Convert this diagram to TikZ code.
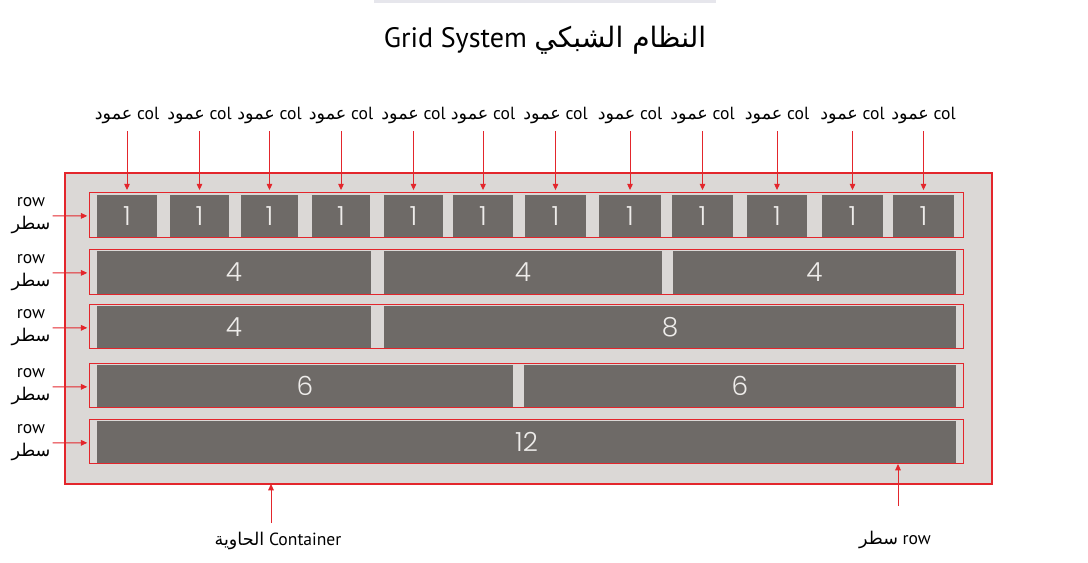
\documentclass[tikz,border=0pt]{standalone}
\usepackage{fontspec}
\setmainfont{PT Sans}
\newfontfamily\arfont[Script=Arabic]{DejaVu Sans}
\newfontfamily\numfont{Poppins}[UprightFont=* Light]
\TeXXeTstate=1
\usetikzlibrary{arrows.meta,fit}
\definecolor{gridred}{HTML}{E3262C}
\definecolor{boxgray}{HTML}{DBD8D6}
\definecolor{colgray}{HTML}{6E6A67}
\definecolor{numwhite}{HTML}{EEECEA}
\definecolor{bargray}{HTML}{E6E6EC}
\newcommand{\artxt}[1]{{\arfont\beginR #1\endR}}
\tikzset{
	contbox/.style={draw=gridred,fill=boxgray,line width=0.7pt,inner sep=0pt},
	rowfill/.style={fill=boxgray,inner sep=0pt},
	rowline/.style={draw=gridred,fill=none,inner sep=0pt,line width=0.7pt},
	colbox/.style={fill=colgray,inner sep=0pt},
	numtxt/.style={inner sep=0pt,text=numwhite,font=\numfont\fontsize{15}{15}\selectfont},
	lbl/.style={inner sep=1pt,font=\fontsize{10}{13}\selectfont},
	redarrow/.style={-{Triangle[length=3.6pt,width=3.2pt]},draw=gridred,line width=0.55pt}
}

\begin{document}
\begin{tikzpicture}[x=0.02cm,y=-0.02cm]
	\useasboundingbox (0,0) rectangle (1088,563);
	\fill[bargray] (374,0) rectangle (716,3);
	
	\node[contbox,fit={(65,173) (992,484)}] (cont) {};
	\foreach \rw/\t/\b in {1/193/237,2/250/294,3/305/348,4/364/407,5/420/463}
	\node[rowfill,fit={(90,\t) (963,\b)}] (row\rw) {};
	
	\foreach \l/\rr [count=\i] in {97/157,170/229,241/298,312/370,384/443,453/513,525/586,599/661,672/733,747/807,822/883,893/954}
	\node[colbox,fit={(\l,195) (\rr,237)}] (c1-\i) {};
	\foreach \l/\rr [count=\i] in {97/371,384/662,673/956}
	\node[colbox,fit={(\l,251) (\rr,294)}] (c2-\i) {};
	\foreach \l/\rr [count=\i] in {97/371,384/956}
	\node[colbox,fit={(\l,306) (\rr,348)}] (c3-\i) {};
	\foreach \l/\rr [count=\i] in {97/513,524/956}
	\node[colbox,fit={(\l,365) (\rr,407)}] (c4-\i) {};
	\node[colbox,fit={(97,421) (956,463)}] (c5-1) {};
	
	\foreach \rw in {1,...,5}
	\node[rowline,fit=(row\rw)] (rb\rw) {};
	
	\foreach \i in {1,...,12}
	\node[numtxt] (n1-\i) at (c1-\i) {1};
	\node[numtxt] (n2-1) at (c2-1) {4};
	\node[numtxt] (n2-2) at (c2-2) {4};
	\node[numtxt] (n2-3) at (c2-3) {4};
	\node[numtxt] (n3-1) at (c3-1) {4};
	\node[numtxt] (n3-2) at (c3-2) {8};
	\node[numtxt] (n4-1) at (c4-1) {6};
	\node[numtxt] (n4-2) at (c4-2) {6};
	\node[numtxt] (n5-1) at (c5-1) {12};
	
	\foreach \rw/\y in {1/216,2/273,3/328,4/387,5/443} {
		\node[lbl,align=center] (rl\rw) at (31,\y) {row\\\artxt{سطر}};
		\draw[redarrow,shorten >=1pt] (rl\rw) -- (rb\rw);
	}
	
	\foreach \i in {1,...,12} {
		\path (c1-\i.north) ++(0,-79) node[lbl] (cl\i) {\artxt{عمود} col};
		\draw[redarrow,shorten <=3pt,shorten >=2.6pt] (cl\i) -- (c1-\i.north);
	}
	
	\node[lbl] (contlbl) at (278,541) {\artxt{الحاوية} Container};
	\coordinate (contpt) at (271,484);
	\draw[redarrow,shorten <=4pt] (contlbl.north -| contpt) -- (contpt);
	
	\node[lbl] (rowlbl) at (895,540) {\artxt{سطر} row};
	\coordinate (rowpt) at (898,464);
	\draw[redarrow,shorten <=13pt] (rowlbl.north -| rowpt) -- (rowpt);
	
	\node[font=\fontsize{16}{18}\selectfont] (title) at (545,40) {Grid System \artxt{النظام الشبكي}};
\end{tikzpicture}
\end{document}
